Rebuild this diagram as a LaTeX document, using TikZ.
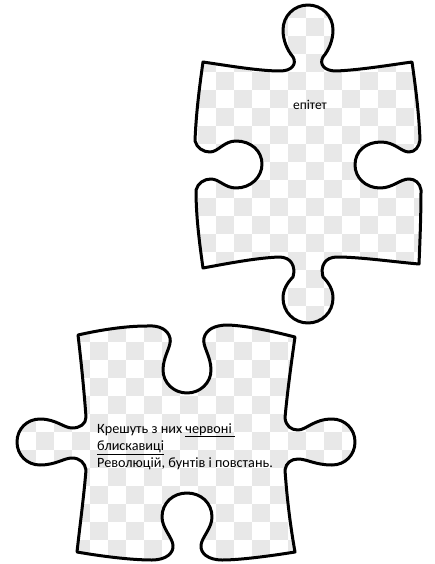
\documentclass[tikz,border=0pt]{standalone}
\usepackage{fontspec}
\setmainfont{Carlito}
\definecolor{checkgray}{HTML}{E8E8E8}
\newcommand\toppiecepath{(203,62) .. controls (230,66) and (260,71) .. (280,71)
 .. controls (292,71) and (297,64) .. (293,57)
 .. controls (287,50) and (283,40) .. (283,30) .. controls (283,16) and (294,5) .. (308,5)
 .. controls (322,5) and (333,16) .. (333,30) .. controls (333,40) and (329,50) .. (323,57)
 .. controls (319,64) and (324,71) .. (336,71)
 .. controls (360,70) and (390,65) .. (412,62)
 .. controls (416,90) and (419,115) .. (420,140)
 .. controls (419,147) and (415,152) .. (409,152) .. controls (401,152) and (395,142) .. (381,142)
 .. controls (366,142) and (355,151) .. (355,165) .. controls (355,178) and (366,188) .. (380,188)
 .. controls (393,188) and (400,179) .. (409,179) .. controls (415,179) and (420,183) .. (421,190)
 .. controls (421,215) and (420,240) .. (419,264)
 .. controls (395,262) and (360,257) .. (337,257)
 .. controls (325,257) and (320,266) .. (323,277)
 .. controls (329,283) and (333,290) .. (333,298) .. controls (333,312) and (322,323) .. (308,323)
 .. controls (294,323) and (283,312) .. (283,298) .. controls (283,290) and (287,283) .. (293,277)
 .. controls (296,266) and (291,257) .. (279,257)
 .. controls (255,258) and (225,264) .. (203,268)
 .. controls (199,240) and (196,215) .. (196,190)
 .. controls (198,183) and (204,179) .. (211,179) .. controls (219,179) and (225,188) .. (236,188)
 .. controls (251,188) and (262,177) .. (262,164) .. controls (262,151) and (251,141) .. (236,141)
 .. controls (224,141) and (218,152) .. (210,152) .. controls (203,152) and (197,148) .. (195,141)
 .. controls (196,115) and (199,90) .. (203,62) -- cycle}
\newcommand\bottompiecepath{(78,335) .. controls (100,330) and (125,326) .. (147,326)
 .. controls (160,325) and (168,330) .. (170,338) .. controls (172,346) and (163,356) .. (163,370)
 .. controls (163,383) and (174,393) .. (187,393) .. controls (200,393) and (211,383) .. (211,370)
 .. controls (211,356) and (202,346) .. (204,338) .. controls (206,330) and (214,325) .. (228,325)
 .. controls (250,326) and (275,332) .. (295,337)
 .. controls (291,365) and (287,395) .. (285,418)
 .. controls (286,426) and (291,430) .. (298,430) .. controls (306,430) and (314,419) .. (332,419)
 .. controls (345,419) and (355,429) .. (355,442) .. controls (355,455) and (345,465) .. (332,465)
 .. controls (315,465) and (307,459) .. (298,459) .. controls (291,459) and (286,463) .. (285,470)
 .. controls (287,500) and (291,530) .. (295,552)
 .. controls (270,556) and (240,560) .. (222,560)
 .. controls (208,560) and (200,553) .. (201,545) .. controls (202,537) and (212,528) .. (212,517)
 .. controls (212,503) and (201,493) .. (187,493) .. controls (173,493) and (162,503) .. (162,517)
 .. controls (162,528) and (172,537) .. (173,545) .. controls (174,553) and (166,560) .. (152,560)
 .. controls (130,560) and (100,556) .. (77,552)
 .. controls (80,525) and (84,495) .. (86,470)
 .. controls (85,463) and (80,458) .. (72,458) .. controls (64,458) and (56,465) .. (40,465)
 .. controls (27,465) and (17,455) .. (17,442) .. controls (17,429) and (27,419) .. (40,419)
 .. controls (56,419) and (64,428) .. (72,428) .. controls (80,428) and (86,424) .. (86,417)
 .. controls (84,390) and (81,360) .. (78,335) -- cycle}
\tikzset{
  piece/.style={draw=black, line width=3pt, line join=round},
  checks/.style={fill=checkgray},
  label/.style={inner sep=0pt, font=\fontsize{14.2}{17}\selectfont}
}
\begin{document}
\begin{tikzpicture}[x=1pt,y=-1pt]
\useasboundingbox[fill=white] (0,0) rectangle (434,564);
% checkerboard inside the top piece
\begin{scope}
  \clip \toppiecepath;
  \foreach \cx in {0,36,...,432} \foreach \cy in {0,36,...,576} {
    \fill[checks] (\cx,\cy) rectangle ++(18,18);
    \fill[checks] (\cx+18,\cy+18) rectangle ++(18,18);
  }
\end{scope}
% checkerboard inside the bottom piece
\begin{scope}
  \clip \bottompiecepath;
  \foreach \cx in {0,36,...,432} \foreach \cy in {0,36,...,576} {
    \fill[checks] (\cx,\cy) rectangle ++(18,18);
    \fill[checks] (\cx+18,\cy+18) rectangle ++(18,18);
  }
\end{scope}
\draw[piece] \toppiecepath;
\draw[piece] \bottompiecepath;
\node[label, font=\fontsize{13.5}{15}\selectfont] (epithet) at (310,105) {епітет};
\node[label, anchor=base west] (line1) at (97,433) {Крешуть з них \underline{червоні\ }};
\node[label, anchor=base west] (line2) at (97,450) {\underline{блискавиці}};
\node[label, anchor=base west] (line3) at (97,467) {Революцій, бунтів і повстань.};
\end{tikzpicture}
\end{document}
